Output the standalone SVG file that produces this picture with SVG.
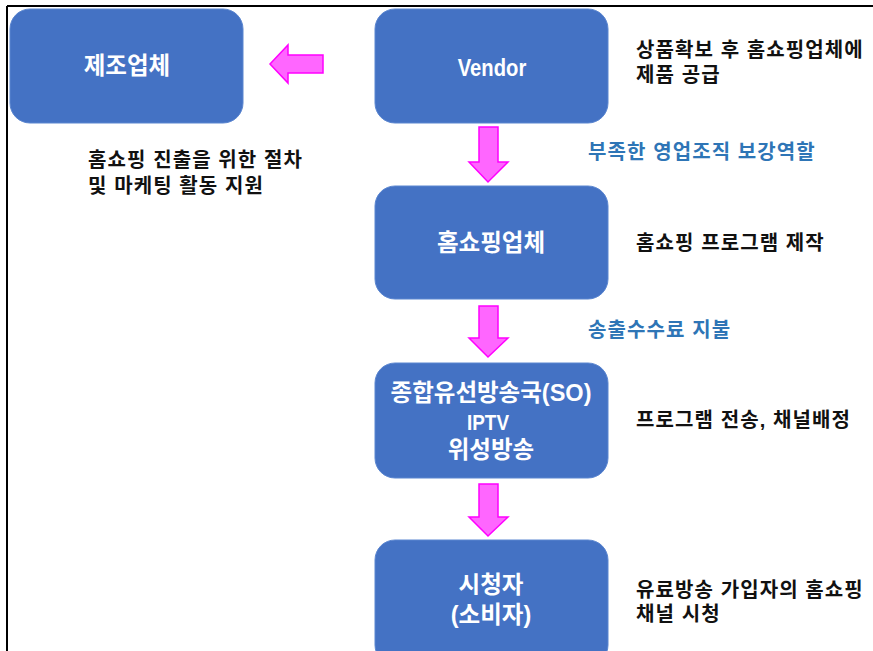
<svg xmlns="http://www.w3.org/2000/svg" width="873" height="651" viewBox="0 0 873 651">
<style>
.box{fill:#4472C4;stroke:#5B86D0;stroke-width:1}
.bt{font-family:"Liberation Sans","Noto Sans CJK KR",sans-serif;font-weight:bold;font-size:23.5px;fill:#FFFFFF;text-anchor:middle}
.bl{font-family:"Liberation Sans","Noto Sans CJK KR",sans-serif;font-weight:bold;font-size:23.5px;fill:#FFFFFF;text-anchor:middle}
.lt{font-family:"Liberation Sans","Noto Sans CJK KR",sans-serif;font-weight:bold;font-size:20px;letter-spacing:1.1px;fill:#111111}
.blue{font-family:"Liberation Sans","Noto Sans CJK KR",sans-serif;font-weight:bold;font-size:20px;letter-spacing:1.1px;fill:#2E75B6}
.arr{fill:#FF66FF;stroke:#FF00FF;stroke-width:1.5;stroke-linejoin:miter}
</style>
<rect x="0" y="0" width="873" height="651" fill="#FFFFFF"/>
<line x1="7" y1="6" x2="873" y2="6" stroke="#000" stroke-width="2"/>
<line x1="7" y1="6" x2="7" y2="651" stroke="#000" stroke-width="2"/>

<g id="connectors">
<polygon class="arr" points="270,64 288,45 288,55 323,55 323,73 288,73 288,83"/>
<polygon class="arr" points="479,127 498,127 498,162 508,162 488,182 469,162 479,162"/>
<polygon class="arr" points="479,306 498,306 498,338 508,338 488,357 469,338 479,338"/>
<polygon class="arr" points="479,484 498,484 498,517 508,517 488,536 469,517 479,517"/>
</g>

<g id="maker">
<rect class="box" x="10" y="9" width="233" height="114" rx="20"/>
<text class="bt" x="127" y="74">제조업체</text>
</g>
<g id="vendor">
<rect class="box" x="375" y="9" width="233" height="114" rx="20"/>
<text class="bl" transform="translate(492,76) scale(0.86,1)">Vendor</text>
</g>
<g id="homeshopping">
<rect class="box" x="375" y="186" width="233" height="113" rx="20"/>
<text class="bt" x="491" y="251">홈쇼핑업체</text>
</g>
<g id="so">
<rect class="box" x="375" y="363" width="233" height="115" rx="20"/>
<text class="bt" x="491" y="401">종합유선방송국(SO)</text>
<text class="bl" transform="translate(488,430) scale(0.84,1)" style="font-size:22.5px">IPTV</text>
<text class="bt" x="491" y="458">위성방송</text>
</g>
<g id="viewer">
<rect class="box" x="375" y="540" width="233" height="125" rx="20"/>
<text class="bt" x="491" y="593">시청자</text>
<text class="bt" x="491" y="623">(소비자)</text>
</g>

<g id="labels">
<text class="lt" x="636" y="57">상품확보 후 홈쇼핑업체에</text>
<text class="lt" x="636" y="82">제품 공급</text>
<text class="blue" x="588" y="159">부족한 영업조직 보강역할</text>
<text class="lt" x="88" y="167">홈쇼핑 진출을 위한 절차</text>
<text class="lt" x="88" y="193">및 마케팅 활동 지원</text>
<text class="lt" x="636" y="250">홈쇼핑 프로그램 제작</text>
<text class="blue" x="588" y="337">송출수수료 지불</text>
<text class="lt" x="636" y="427">프로그램 전송, 채널배정</text>
<text class="lt" x="636" y="597">유료방송 가입자의 홈쇼핑</text>
<text class="lt" x="636" y="621">채널 시청</text>
</g>
</svg>
